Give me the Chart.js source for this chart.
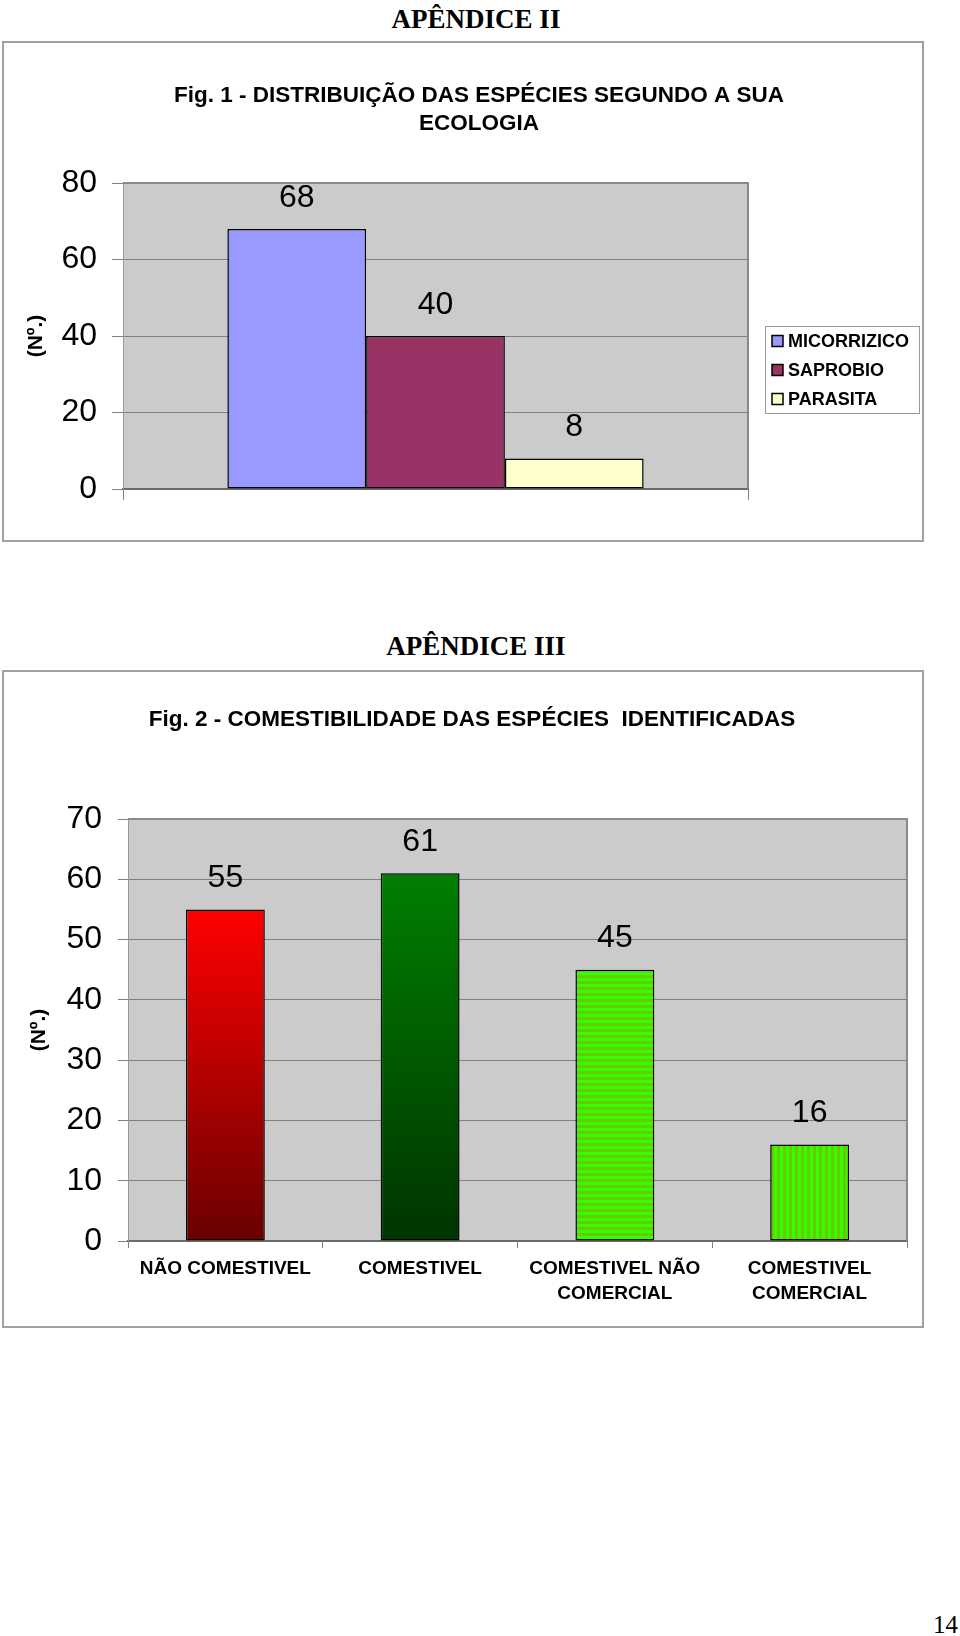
<!DOCTYPE html>
<html>
<head>
<meta charset="utf-8">
<script src="https://cdn.jsdelivr.net/npm/chart.js@4.4.1/dist/chart.umd.min.js"></script>
<style>
  html, body { margin: 0; padding: 0; background: #fff; }
  #page { position: relative; width: 960px; height: 1636px; overflow: hidden; background: #fff; }
  .hdr { position: absolute; left: 0; width: 952px; text-align: center; font-family: 'Liberation Serif', 'Times New Roman', serif; font-weight: bold; font-size: 27px; line-height: 30px; color: #000; }
  .box { position: absolute; left: 2px; width: 922px; box-sizing: border-box; border: 2px solid #a0a0a0; }
  .pgnum { position: absolute; left: 880px; width: 78px; top: 1610px; text-align: right; font-family: 'Liberation Serif', 'Times New Roman', serif; font-size: 25px; line-height: 30px; color: #000; }
  canvas { position: absolute; left: 0; }
</style>
</head>
<body>
<div id="page">
  <div class="hdr" style="top:4px;">APÊNDICE II</div>
  <div class="box" style="top:41px;height:501px;"></div>
  <canvas id="c1" width="960" height="560" style="top:0px;width:960px;height:560px;"></canvas>

  <div class="hdr" style="top:631px;">APÊNDICE III</div>
  <div class="box" style="top:670px;height:658px;"></div>
  <canvas id="c2" width="960" height="680" style="top:660px;width:960px;height:680px;"></canvas>

  <div class="pgnum">14</div>
</div>
<script>
// ---------- DATA ----------
const fig1Title = ['Fig. 1 - DISTRIBUIÇÃO DAS ESPÉCIES SEGUNDO A SUA', 'ECOLOGIA'];
const fig1Categories = [''];
const fig1Series = ['MICORRIZICO', 'SAPROBIO', 'PARASITA'];
const fig1Values = [68, 40, 8];
const fig1Colors = ['#9999FF', '#993366', '#FFFFCC'];
const fig1Ticks = [0, 20, 40, 60, 80];

const fig2Title = 'Fig. 2 - COMESTIBILIDADE DAS ESPÉCIES  IDENTIFICADAS';
const fig2Categories = [['NÃO COMESTIVEL'], ['COMESTIVEL'], ['COMESTIVEL NÃO', 'COMERCIAL'], ['COMESTIVEL', 'COMERCIAL']];
const fig2Values = [55, 61, 45, 16];
const fig2Ticks = [0, 10, 20, 30, 40, 50, 60, 70];

const yTitle = '(Nº.)';

// ---------- STYLE ----------
const SANS = "'Liberation Sans', Arial, Helvetica, sans-serif";
Chart.defaults.font.family = SANS;
Chart.defaults.color = '#000';
Chart.defaults.devicePixelRatio = 1;

const fig2Fills = [
  { type: 'gradient', from: '#FF0000', to: '#680000' },
  { type: 'gradient', from: '#007F00', to: '#003400' },
  { type: 'stripes', dir: 'h', c1: '#33FF00', c2: '#66CC00' },
  { type: 'stripes', dir: 'v', c1: '#33FF00', c2: '#66CC00' }
];

function makeStripes(ctx, dir, c1, c2) {
  const size = 6;
  const cv = document.createElement('canvas');
  cv.width = size; cv.height = size;
  const x = cv.getContext('2d');
  x.fillStyle = c2; x.fillRect(0, 0, size, size);
  x.fillStyle = c1;
  if (dir === 'h') x.fillRect(0, 0, size, size / 2);
  else x.fillRect(0, 0, size / 2, size);
  return ctx.createPattern(cv, 'repeat');
}

// ---------- PLUGINS ----------
const plotFrame = {
  id: 'plotFrame',
  beforeDraw(chart, args, opts) {
    const { ctx, chartArea: a } = chart;
    ctx.save();
    ctx.fillStyle = opts.fill;
    ctx.fillRect(a.left, a.top, a.width, a.height);
    ctx.restore();
  },
  beforeDatasetsDraw(chart, args, opts) {
    const { ctx, chartArea: a } = chart;
    ctx.save();
    ctx.strokeStyle = opts.stroke;
    ctx.lineWidth = opts.width;
    ctx.beginPath();
    ctx.moveTo(a.left, a.top);
    ctx.lineTo(a.right, a.top);
    ctx.lineTo(a.right, a.bottom);
    ctx.stroke();
    ctx.restore();
  }
};

const valueLabels = {
  id: 'valueLabels',
  afterDatasetsDraw(chart, args, opts) {
    const ctx = chart.ctx;
    ctx.save();
    ctx.font = opts.size + 'px ' + SANS;
    ctx.fillStyle = '#000';
    ctx.textAlign = 'center';
    ctx.textBaseline = 'middle';
    chart.data.datasets.forEach((ds, di) => {
      const meta = chart.getDatasetMeta(di);
      meta.data.forEach((el, i) => {
        ctx.fillText(String(ds.data[i]), el.x, el.y - opts.offset);
      });
    });
    ctx.restore();
  }
};

const boxLegend = {
  id: 'boxLegend',
  afterDraw(chart, args, opts) {
    if (!opts.display) return;
    const { ctx, chartArea: a } = chart;
    const left = a.right + opts.dx, top = a.top + opts.dy;
    const n = chart.data.datasets.length;
    const h = opts.first + (n - 1) * opts.step + opts.last;
    ctx.save();
    ctx.strokeStyle = '#9a9a9a';
    ctx.lineWidth = 1;
    ctx.strokeRect(left + 0.5, top + 0.5, opts.width, h);
    ctx.font = 'bold ' + opts.size + 'px ' + SANS;
    ctx.textBaseline = 'middle';
    ctx.textAlign = 'left';
    chart.data.datasets.forEach((ds, i) => {
      const cy = top + opts.first + i * opts.step;
      ctx.fillStyle = ds.backgroundColor;
      ctx.fillRect(left + 7, cy - 5.5, 11, 11);
      ctx.strokeStyle = '#000';
      ctx.lineWidth = 1.5;
      ctx.strokeRect(left + 7, cy - 5.5, 11, 11);
      ctx.fillStyle = '#000';
      ctx.fillText(ds.label, left + 23, cy + 1);
    });
    ctx.restore();
  }
};

// ---------- CHART 1 ----------
new Chart(document.getElementById('c1'), {
  type: 'bar',
  data: {
    labels: fig1Categories,
    datasets: fig1Series.map((s, i) => ({
      label: s,
      data: [fig1Values[i]],
      backgroundColor: fig1Colors[i],
      borderColor: '#000',
      borderWidth: 1.5,
      borderSkipped: false,
      categoryPercentage: 0.666,
      barPercentage: 1
    }))
  },
  options: {
    responsive: false,
    animation: false,
    layout: { padding: { left: 0, right: 2, top: 0, bottom: 0 } },
    plugins: {
      legend: { display: false },
      tooltip: { enabled: false },
      title: {
        display: true,
        text: fig1Title,
        color: '#000',
        font: { size: 22.5, weight: 'bold', lineHeight: 28 / 22.5 },
        padding: { top: 82, bottom: 45 }
      },
      plotFrame: { fill: '#CBCBCB', stroke: '#8a8a8a', width: 2 },
      valueLabels: { size: 32, offset: 31 },
      boxLegend: { display: true, dx: 17, dy: 143, width: 154, first: 15, step: 29, last: 14, size: 18 }
    },
    scales: {
      x: {
        grid: { display: true, drawOnChartArea: false, drawTicks: true, tickLength: 11, color: '#808080' },
        ticks: { display: false },
        border: { display: true, color: '#6a6a6a', width: 2 },
        afterFit: s => { s.height = 71; }
      },
      y: {
        min: fig1Ticks[0],
        max: fig1Ticks[fig1Ticks.length - 1],
        afterBuildTicks: s => { s.ticks = fig1Ticks.map(v => ({ value: v })); },
        ticks: { font: { size: 32 }, color: '#000', padding: 15 },
        grid: { color: '#808080', lineWidth: 1, tickLength: 11 },
        border: { color: '#999999', width: 1 },
        title: { display: true, text: yTitle, color: '#000', font: { size: 21, weight: 'bold', lineHeight: 1.2 }, padding: { top: 24, bottom: 0 } },
        afterFit: s => { s.width = 123; }
      },
      y2: {
        position: 'right',
        display: true,
        grid: { display: false },
        ticks: { display: false },
        border: { display: false },
        afterFit: s => { s.width = 210; }
      }
    }
  },
  plugins: [plotFrame, valueLabels, boxLegend]
});

// ---------- CHART 2 ----------
const c2 = document.getElementById('c2');
const c2ctx = c2.getContext('2d');
const fig2Patterns = fig2Fills.map(f => f.type === 'stripes' ? makeStripes(c2ctx, f.dir, f.c1, f.c2) : null);

new Chart(c2, {
  type: 'bar',
  data: {
    labels: fig2Categories,
    datasets: [{
      label: 'Nº',
      data: fig2Values,
      backgroundColor: (c) => {
        const i = c.dataIndex;
        const f = fig2Fills[i];
        if (!f) return '#ccc';
        if (f.type === 'stripes') return fig2Patterns[i];
        const chart = c.chart;
        const ys = chart.scales.y;
        if (!chart.chartArea || !ys || c.raw === undefined) return f.from;
        const top = ys.getPixelForValue(c.raw);
        const bottom = ys.getPixelForValue(0);
        const g = chart.ctx.createLinearGradient(0, top, 0, bottom);
        g.addColorStop(0, f.from);
        g.addColorStop(1, f.to);
        return g;
      },
      borderColor: '#000',
      borderWidth: 1.5,
      borderSkipped: false,
      categoryPercentage: 1,
      barPercentage: 0.405
    }]
  },
  options: {
    responsive: false,
    animation: false,
    layout: { padding: { left: 0, right: 16, top: 0, bottom: 0 } },
    plugins: {
      legend: { display: false },
      tooltip: { enabled: false },
      title: {
        display: true,
        text: fig2Title,
        color: '#000',
        font: { size: 22.5, weight: 'bold', lineHeight: 30 / 22.5 },
        padding: { top: 45, bottom: 84 }
      },
      plotFrame: { fill: '#CBCBCB', stroke: '#8a8a8a', width: 2 },
      valueLabels: { size: 32, offset: 31.5 }
    },
    scales: {
      x: {
        grid: { display: true, drawOnChartArea: false, drawTicks: true, tickLength: 7, color: '#808080' },
        ticks: { font: { size: 19, weight: 'bold', lineHeight: 24.5 / 19 }, color: '#000', padding: 9, maxRotation: 0, minRotation: 0, autoSkip: false },
        border: { display: true, color: '#6a6a6a', width: 2 },
        afterFit: s => { s.height = 99; }
      },
      y: {
        min: fig2Ticks[0],
        max: fig2Ticks[fig2Ticks.length - 1],
        afterBuildTicks: s => { s.ticks = fig2Ticks.map(v => ({ value: v })); },
        ticks: { font: { size: 32 }, color: '#000', padding: 16 },
        grid: { color: '#808080', lineWidth: 1, tickLength: 10 },
        border: { color: '#999999', width: 1 },
        title: { display: true, text: yTitle, color: '#000', font: { size: 21, weight: 'bold', lineHeight: 1.2 }, padding: { top: 27, bottom: 0 } },
        afterFit: s => { s.width = 128; }
      },
      y2: {
        position: 'right',
        display: true,
        grid: { display: false },
        ticks: { display: false },
        border: { display: false },
        afterFit: s => { s.width = 37; }
      }
    }
  },
  plugins: [plotFrame, valueLabels]
});
</script>
</body>
</html>
